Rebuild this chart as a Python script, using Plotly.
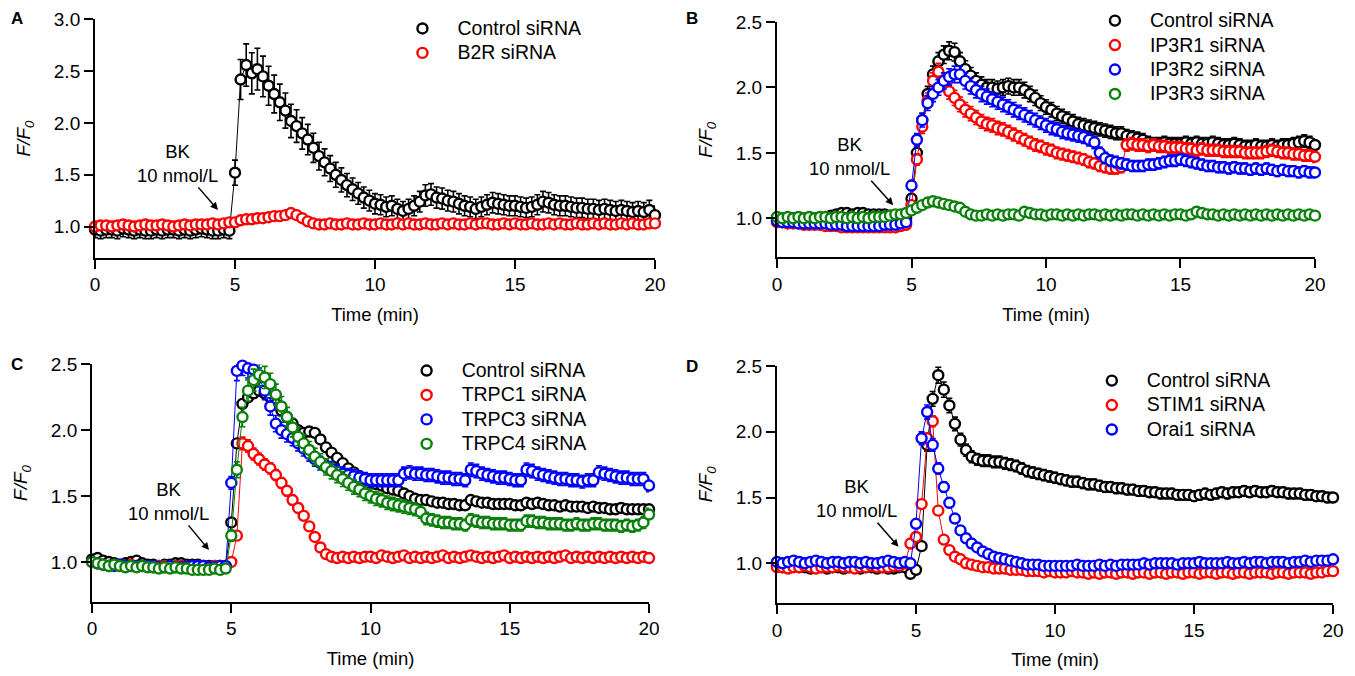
import plotly.graph_objects as go

FONT = "Liberation Sans, Arial, Helvetica, sans-serif"
BLACK, RED, BLUE, GREEN = "#000000", "#ff0000", "#0000ff", "#0b800b"

# sampling grid (min)
time_min = [
    0.0, 0.2, 0.4, 0.6, 0.8, 1.0, 1.2, 1.4, 1.6, 1.8,
    2.0, 2.2, 2.4, 2.6, 2.8, 3.0, 3.2, 3.4, 3.6, 3.8,
    4.0, 4.2, 4.4, 4.6, 4.8, 5.0, 5.2, 5.4, 5.6, 5.8,
    6.0, 6.2, 6.4, 6.6, 6.8, 7.0, 7.2, 7.4, 7.6, 7.8,
    8.0, 8.2, 8.4, 8.6, 8.8, 9.0, 9.2, 9.4, 9.6, 9.8,
    10.0, 10.2, 10.4, 10.6, 10.8, 11.0, 11.2, 11.4, 11.6, 11.8,
    12.0, 12.2, 12.4, 12.6, 12.8, 13.0, 13.2, 13.4, 13.6, 13.8,
    14.0, 14.2, 14.4, 14.6, 14.8, 15.0, 15.2, 15.4, 15.6, 15.8,
    16.0, 16.2, 16.4, 16.6, 16.8, 17.0, 17.2, 17.4, 17.6, 17.8,
    18.0, 18.2, 18.4, 18.6, 18.8, 19.0, 19.2, 19.4, 19.6, 19.8,
    20.0,
]

# ---- panel A
a_control = [
    0.97, 0.96, 0.97, 0.97, 0.96, 0.98, 0.97, 0.96, 0.97, 0.96,
    0.96, 0.97, 0.96, 0.97, 0.97, 0.96, 0.97, 0.96, 0.97, 0.98,
    0.97, 0.96, 0.96, 0.97, 0.96, 1.52, 2.42, 2.56, 2.48, 2.52,
    2.45, 2.36, 2.28, 2.20, 2.12, 2.02, 1.97, 1.90, 1.84, 1.76,
    1.68, 1.62, 1.56, 1.50, 1.45, 1.40, 1.36, 1.32, 1.28, 1.25,
    1.22, 1.21, 1.19, 1.20, 1.17, 1.15, 1.17, 1.20, 1.24, 1.30,
    1.31, 1.28, 1.27, 1.25, 1.24, 1.22, 1.20, 1.19, 1.17, 1.19,
    1.21, 1.23, 1.22, 1.21, 1.20, 1.20, 1.19, 1.18, 1.19, 1.21,
    1.24, 1.23, 1.21, 1.20, 1.20, 1.19, 1.18, 1.18, 1.17, 1.17,
    1.16, 1.17, 1.16, 1.15, 1.16, 1.15, 1.14, 1.15, 1.14, 1.16,
    1.11,
]
a_b2r = [
    1.00, 1.01, 1.01, 1.00, 1.01, 1.02, 1.01, 1.00, 1.01, 1.02,
    1.01, 1.01, 1.02, 1.01, 1.00, 1.01, 1.02, 1.01, 1.02, 1.02,
    1.02, 1.03, 1.02, 1.03, 1.04, 1.04, 1.06, 1.07, 1.07, 1.08,
    1.08, 1.09, 1.10, 1.10, 1.11, 1.13, 1.11, 1.08, 1.05, 1.03,
    1.02, 1.02, 1.03, 1.02, 1.02, 1.03, 1.02, 1.02, 1.03, 1.02,
    1.02, 1.03, 1.02, 1.02, 1.03, 1.02, 1.03, 1.02, 1.02, 1.03,
    1.02, 1.02, 1.03, 1.02, 1.03, 1.02, 1.02, 1.03, 1.02, 1.03,
    1.03, 1.02, 1.02, 1.03, 1.02, 1.03, 1.02, 1.02, 1.03, 1.02,
    1.02, 1.03, 1.02, 1.03, 1.02, 1.02, 1.03, 1.02, 1.02, 1.03,
    1.02, 1.03, 1.02, 1.02, 1.03, 1.02, 1.03, 1.02, 1.02, 1.03,
    1.03,
]

# ---- panel B
b_control = [
    1.00, 0.99, 0.99, 1.00, 0.99, 0.99, 1.00, 1.00, 0.99, 1.00,
    1.02, 1.03, 1.04, 1.04, 1.03, 1.04, 1.04, 1.03, 1.03, 1.03,
    1.03, 1.02, 1.02, 1.01, 1.00, 1.15, 1.50, 1.75, 1.95, 2.10,
    2.20, 2.25, 2.28, 2.27, 2.20, 2.14, 2.09, 2.05, 2.02, 2.00,
    2.00, 1.99, 2.00, 2.01, 2.00, 2.00, 1.98, 1.95, 1.92, 1.88,
    1.85, 1.83, 1.80, 1.78, 1.76, 1.74, 1.72, 1.71, 1.70, 1.69,
    1.68, 1.67, 1.66, 1.65, 1.65, 1.63, 1.62, 1.61, 1.60, 1.58,
    1.57, 1.57, 1.58, 1.57, 1.57, 1.57, 1.58, 1.57, 1.58, 1.57,
    1.57, 1.58, 1.57, 1.56, 1.56, 1.57, 1.56, 1.55, 1.55, 1.56,
    1.55, 1.55, 1.56, 1.55, 1.56, 1.56, 1.57, 1.58, 1.59, 1.58,
    1.56,
]
b_ip3r1 = [
    0.97, 0.97, 0.96, 0.96, 0.96, 0.95, 0.95, 0.95, 0.95, 0.94,
    0.94, 0.94, 0.93, 0.93, 0.93, 0.93, 0.93, 0.93, 0.93, 0.93,
    0.93, 0.93, 0.93, 0.94, 0.95, 1.10, 1.45, 1.70, 1.90, 2.05,
    2.12, 2.05, 1.97, 1.92, 1.87, 1.83, 1.80, 1.77, 1.74, 1.72,
    1.71, 1.69, 1.68, 1.66, 1.64, 1.62, 1.60, 1.58, 1.56, 1.55,
    1.53, 1.52, 1.50, 1.49, 1.48, 1.47, 1.46, 1.45, 1.43, 1.42,
    1.40, 1.39, 1.38, 1.38, 1.39, 1.56, 1.57, 1.56, 1.56, 1.55,
    1.56, 1.55, 1.55, 1.54, 1.54, 1.54, 1.53, 1.53, 1.52, 1.53,
    1.52, 1.52, 1.52, 1.51, 1.51, 1.51, 1.51, 1.50, 1.50, 1.50,
    1.50, 1.51, 1.52, 1.51, 1.50, 1.50, 1.49, 1.49, 1.48, 1.48,
    1.47,
]
b_ip3r2 = [
    0.98, 0.97, 0.97, 0.97, 0.96, 0.96, 0.96, 0.96, 0.96, 0.96,
    0.95, 0.95, 0.95, 0.94, 0.94, 0.94, 0.94, 0.94, 0.94, 0.94,
    0.95, 0.95, 0.95, 0.96, 0.97, 1.25, 1.60, 1.75, 1.88, 1.95,
    2.00, 2.05, 2.08, 2.10, 2.10, 2.05, 2.01, 1.98, 1.95, 1.93,
    1.91, 1.89, 1.87, 1.85, 1.83, 1.81, 1.79, 1.77, 1.75, 1.73,
    1.71, 1.69, 1.68, 1.66, 1.65, 1.64, 1.63, 1.62, 1.60, 1.58,
    1.50, 1.46, 1.44, 1.43, 1.42, 1.41, 1.40, 1.40, 1.40, 1.41,
    1.41, 1.42, 1.43, 1.44, 1.44, 1.45, 1.44, 1.43, 1.42, 1.41,
    1.40, 1.40, 1.39, 1.39, 1.38, 1.39, 1.38, 1.38, 1.37, 1.38,
    1.37, 1.38, 1.37, 1.36, 1.37, 1.36, 1.36, 1.35, 1.36, 1.35,
    1.35,
]
b_ip3r3 = [
    1.01, 1.00, 1.01, 1.00, 1.01, 1.00, 1.01, 1.00, 1.01, 1.01,
    1.00, 1.01, 1.01, 1.00, 1.01, 1.00, 1.01, 1.00, 1.01, 1.01,
    1.01, 1.02, 1.03, 1.03, 1.04, 1.06, 1.08, 1.10, 1.12, 1.13,
    1.12, 1.11, 1.10, 1.09, 1.08, 1.05, 1.03, 1.02, 1.02, 1.03,
    1.02, 1.03, 1.02, 1.03, 1.03, 1.02, 1.05, 1.04, 1.03, 1.03,
    1.02, 1.03, 1.03, 1.02, 1.03, 1.02, 1.03, 1.02, 1.03, 1.03,
    1.02, 1.03, 1.02, 1.03, 1.02, 1.03, 1.03, 1.02, 1.03, 1.02,
    1.03, 1.02, 1.03, 1.02, 1.03, 1.03, 1.02, 1.03, 1.05, 1.04,
    1.03, 1.03, 1.02, 1.03, 1.02, 1.03, 1.02, 1.03, 1.02, 1.03,
    1.02, 1.03, 1.02, 1.03, 1.02, 1.03, 1.02, 1.03, 1.02, 1.03,
    1.02,
]

# ---- panel C
c_control = [
    1.02, 1.03, 1.01, 1.00, 0.99, 0.98, 0.99, 1.00, 1.01, 0.99,
    0.98, 0.98, 0.97, 0.98, 0.98, 0.99, 0.99, 0.98, 0.98, 0.98,
    0.97, 0.97, 0.97, 0.97, 0.97, 1.30, 1.90, 2.20, 2.25, 2.28,
    2.30, 2.28, 2.25, 2.20, 2.15, 2.10, 2.05, 2.00, 1.98, 1.99,
    1.98, 1.93, 1.87, 1.83, 1.79, 1.75, 1.71, 1.68, 1.65, 1.62,
    1.60, 1.59, 1.58, 1.56, 1.55, 1.54, 1.52, 1.50, 1.48, 1.47,
    1.47, 1.46, 1.45, 1.45, 1.44, 1.44, 1.43, 1.43, 1.47, 1.46,
    1.45, 1.45, 1.44, 1.44, 1.44, 1.44, 1.43, 1.43, 1.45, 1.44,
    1.45, 1.44, 1.43, 1.43, 1.42, 1.43, 1.42, 1.42, 1.42, 1.41,
    1.42, 1.41, 1.41, 1.40, 1.40, 1.41, 1.40, 1.40, 1.40, 1.40,
    1.40,
]
c_trpc1 = [
    1.00, 0.99, 0.98, 0.97, 0.98, 0.97, 0.97, 0.98, 0.97, 0.97,
    0.97, 0.96, 0.97, 0.97, 0.96, 0.97, 0.97, 0.96, 0.97, 0.97,
    0.97, 0.96, 0.97, 0.97, 0.97, 1.00, 1.20, 1.90, 1.88, 1.82,
    1.78, 1.74, 1.71, 1.66, 1.60, 1.54, 1.47, 1.41, 1.35, 1.27,
    1.19, 1.11, 1.06, 1.04, 1.03, 1.04, 1.03, 1.04, 1.03, 1.04,
    1.04, 1.03, 1.05, 1.04, 1.03, 1.04, 1.05, 1.03, 1.04, 1.03,
    1.04, 1.03, 1.04, 1.05, 1.03, 1.04, 1.03, 1.04, 1.05, 1.04,
    1.03, 1.04, 1.03, 1.04, 1.05, 1.03, 1.04, 1.03, 1.04, 1.03,
    1.04, 1.03, 1.04, 1.03, 1.04, 1.05, 1.03, 1.04, 1.03, 1.04,
    1.03, 1.04, 1.03, 1.04, 1.03, 1.04, 1.03, 1.04, 1.03, 1.04,
    1.03,
]
c_trpc3 = [
    1.00, 0.99, 0.98, 0.97, 0.97, 0.98, 0.97, 0.97, 0.97, 0.97,
    0.97, 0.97, 0.96, 0.96, 0.97, 0.96, 0.96, 0.96, 0.97, 0.97,
    0.97, 0.96, 0.96, 0.97, 0.97, 1.60, 2.45, 2.49, 2.47, 2.46,
    2.40, 2.30, 2.18, 2.05, 2.00, 1.97, 1.94, 1.90, 1.86, 1.82,
    1.78, 1.75, 1.73, 1.71, 1.69, 1.67, 1.66, 1.65, 1.64, 1.63,
    1.62, 1.62, 1.62, 1.62, 1.62, 1.62, 1.67, 1.68, 1.67, 1.67,
    1.66, 1.66, 1.65, 1.64, 1.64, 1.63, 1.63, 1.62, 1.70, 1.69,
    1.67, 1.66, 1.65, 1.64, 1.64, 1.63, 1.62, 1.62, 1.70, 1.69,
    1.67, 1.66, 1.65, 1.64, 1.63, 1.63, 1.62, 1.62, 1.61, 1.62,
    1.62, 1.68, 1.67, 1.66, 1.65, 1.64, 1.64, 1.63, 1.63, 1.63,
    1.58,
]
c_trpc4 = [
    1.00, 0.99, 0.98, 0.97, 0.98, 0.97, 0.96, 0.97, 0.96, 0.97,
    0.96, 0.96, 0.95, 0.96, 0.95, 0.96, 0.95, 0.95, 0.94, 0.94,
    0.94, 0.94, 0.95, 0.94, 0.95, 1.20, 1.70, 2.10, 2.30, 2.38,
    2.42, 2.40, 2.35, 2.27, 2.18, 2.10, 2.02, 1.95, 1.90, 1.85,
    1.80, 1.76, 1.72, 1.69, 1.66, 1.63, 1.60, 1.57, 1.55, 1.52,
    1.50, 1.48, 1.47, 1.45, 1.44, 1.43, 1.42, 1.41, 1.40, 1.38,
    1.33, 1.32, 1.31, 1.30, 1.30, 1.29, 1.29, 1.28, 1.32, 1.31,
    1.30, 1.30, 1.29, 1.29, 1.29, 1.28, 1.28, 1.28, 1.31, 1.31,
    1.30, 1.30, 1.29, 1.29, 1.29, 1.28, 1.28, 1.29, 1.28, 1.28,
    1.29, 1.29, 1.28, 1.28, 1.28, 1.27, 1.28, 1.27, 1.28, 1.30,
    1.36,
]

# ---- panel D
d_control = [
    0.98, 0.97, 0.97, 0.98, 0.97, 0.97, 0.96, 0.97, 0.97, 0.96,
    0.97, 0.97, 0.96, 0.97, 0.97, 0.96, 0.97, 0.97, 0.96, 0.97,
    0.96, 0.96, 0.97, 0.97, 0.92, 0.95, 1.13, 1.90, 2.25, 2.43,
    2.32, 2.20, 2.06, 1.94, 1.86, 1.81, 1.79, 1.78, 1.78, 1.77,
    1.77, 1.76, 1.75, 1.74, 1.72, 1.70, 1.69, 1.68, 1.67, 1.66,
    1.65, 1.64, 1.63, 1.62, 1.62, 1.61, 1.60, 1.60, 1.59, 1.58,
    1.58, 1.57, 1.57, 1.56, 1.56, 1.55, 1.55, 1.54, 1.54, 1.53,
    1.53, 1.53, 1.52, 1.52, 1.52, 1.51, 1.52, 1.53, 1.52, 1.53,
    1.54, 1.53, 1.54, 1.54, 1.55, 1.54, 1.55, 1.54, 1.54, 1.55,
    1.54, 1.54, 1.53, 1.53, 1.53, 1.52, 1.52, 1.51, 1.51, 1.50,
    1.50,
]
d_stim1 = [
    0.97, 0.97, 0.96, 0.97, 0.97, 0.98, 0.97, 0.96, 0.97, 0.97,
    0.97, 0.98, 0.97, 0.97, 0.96, 0.97, 0.97, 0.98, 0.97, 0.97,
    0.97, 0.98, 0.98, 1.00, 1.15, 1.20, 1.45, 1.95, 2.08, 1.40,
    1.18, 1.10, 1.05, 1.03, 1.00, 0.99, 0.98, 0.97, 0.97, 0.96,
    0.96, 0.96, 0.95, 0.95, 0.95, 0.94, 0.94, 0.94, 0.93, 0.94,
    0.93, 0.93, 0.93, 0.94, 0.93, 0.93, 0.92, 0.93, 0.92, 0.93,
    0.93, 0.92, 0.93, 0.93, 0.92, 0.93, 0.93, 0.92, 0.93, 0.93,
    0.92, 0.93, 0.93, 0.92, 0.93, 0.93, 0.92, 0.93, 0.93, 0.92,
    0.93, 0.93, 0.92, 0.93, 0.93, 0.92, 0.93, 0.93, 0.93, 0.92,
    0.93, 0.93, 0.92, 0.93, 0.93, 0.93, 0.92, 0.93, 0.93, 0.94,
    0.94,
]
d_orai1 = [
    1.01, 1.00, 1.01, 1.02, 1.01, 1.00, 1.01, 1.02, 1.01, 1.00,
    1.01, 1.01, 1.00, 1.01, 1.01, 1.00, 1.01, 1.00, 1.00, 1.01,
    1.02, 1.01, 1.00, 1.01, 1.00, 1.30, 1.95, 2.15, 1.90, 1.72,
    1.58, 1.46, 1.34, 1.25, 1.19, 1.15, 1.12, 1.09, 1.07, 1.05,
    1.04, 1.03, 1.02, 1.01, 1.00, 0.99, 0.99, 0.99, 0.98, 0.98,
    0.98, 0.98, 0.98, 0.98, 0.99, 0.98, 0.98, 0.98, 0.99, 0.98,
    0.99, 0.98, 0.99, 0.99, 0.99, 0.99, 1.00, 0.99, 1.00, 1.00,
    1.00, 1.00, 0.99, 1.00, 1.00, 1.00, 1.01, 1.00, 1.00, 1.00,
    1.00, 1.01, 1.00, 1.00, 1.01, 1.00, 1.01, 1.01, 1.00, 1.01,
    1.01, 1.01, 1.00, 1.01, 1.01, 1.02, 1.01, 1.02, 1.02, 1.02,
    1.03,
]

# SEM shown as percent of the mean
panels = [
    dict(ax="", label="A", yrange=[0.7, 3.0], xdom=[0.0646, 0.4803], ydom=[0.6264, 0.9828],
         names=["Control siRNA", "B2R siRNA"], series=[a_control, a_b2r],
         colors=[BLACK, RED], sem_pct=[8, 1.5],
         legend=dict(x=0.2817, y=0.9952), bk=(2.95, 1.61), arrow=(4.39, 1.16),
         letter=(0.001, 0.985)),
    dict(ax="2", label="B", yrange=[0.7, 2.5], xdom=[0.5709, 0.9703], ydom=[0.6265, 0.9790],
         names=["Control siRNA", "IP3R1 siRNA", "IP3R2 siRNA", "IP3R3 siRNA"],
         series=[b_control, b_ip3r1, b_ip3r2, b_ip3r3],
         colors=[BLACK, RED, BLUE, GREEN], sem_pct=[3, 3, 3, 1.5],
         legend=dict(x=0.7958, y=1.0069), bk=(2.7, 1.47), arrow=(4.32, 1.10),
         letter=(0.5015, 0.985)),
    dict(ax="3", label="C", yrange=[0.7, 2.5], xdom=[0.0624, 0.4759], ydom=[0.1115, 0.4666],
         names=["Control siRNA", "TRPC1 siRNA", "TRPC3 siRNA", "TRPC4 siRNA"],
         series=[c_control, c_trpc1, c_trpc3, c_trpc4],
         colors=[BLACK, RED, BLUE, GREEN], sem_pct=[1.5, 2.5, 3, 3.5],
         legend=dict(x=0.2848, y=0.4831), bk=(2.75, 1.46), arrow=(4.2, 1.09),
         letter=(0.001, 0.4656)),
    dict(ax="4", label="D", yrange=[0.7, 2.5], xdom=[0.5709, 0.9837], ydom=[0.1097, 0.4641],
         names=["Control siRNA", "STIM1 siRNA", "Orai1 siRNA"],
         series=[d_control, d_stim1, d_orai1],
         colors=[BLACK, RED, BLUE], sem_pct=[2.5, 2, 2.5],
         legend=dict(x=0.7935, y=0.4680), bk=(2.86, 1.49), arrow=(4.37, 1.125),
         letter=(0.5015, 0.4626)),
]

fig = go.Figure()
annotations = []
layout = {}

for p in panels:
    ax = p["ax"]
    leg = "legend" + ax
    for name, ys, col, pct in zip(p["names"], p["series"], p["colors"], p["sem_pct"]):
        # thin connecting line, kept out of the legend
        fig.add_trace(go.Scatter(
            x=time_min, y=ys, mode="lines", showlegend=False, hoverinfo="skip",
            xaxis="x" + ax, yaxis="y" + ax, cliponaxis=False,
            line=dict(color=col, width=1),
        ))
        fig.add_trace(go.Scatter(
            x=time_min, y=ys, mode="markers",
            name='<span style="font-size:19.5px">' + name + "</span>",
            legend=leg, xaxis="x" + ax, yaxis="y" + ax, cliponaxis=False,
            marker=dict(symbol="circle", size=10, color="white", line=dict(color=col, width=2.4)),
            error_y=dict(type="percent", value=pct, color=col, thickness=1.6, width=3),
        ))

    axis_common = dict(showline=True, linecolor="black", linewidth=2, ticks="outside",
                       ticklen=9, tickwidth=2, tickcolor="black", showgrid=False,
                       zeroline=False, automargin=False, ticklabeloverflow="allow",
                       tickfont=dict(family=FONT, size=19, color="black"))
    layout["xaxis" + ax] = dict(axis_common, domain=p["xdom"], anchor="y" + ax,
                                range=[0, 20], tick0=0, dtick=5,
                                title=dict(text="Time (min)", standoff=14,
                                           font=dict(family=FONT, size=18.5, color="black")))
    layout["yaxis" + ax] = dict(axis_common, domain=p["ydom"], anchor="x" + ax,
                                range=p["yrange"], tick0=1.0, dtick=0.5, tickformat=".1f",
                                title=dict(text="F/F<sub>0</sub>", standoff=18,
                                           font=dict(family=FONT, size=19, color="black",
                                                     style="italic")))
    layout[leg] = dict(x=p["legend"]["x"], y=p["legend"]["y"], xanchor="left", yanchor="top",
                       bgcolor="rgba(0,0,0,0)", itemwidth=60, tracegroupgap=0,
                       font=dict(family=FONT, size=16.5, color="black"))

    xr, yr = "x" + ax, "y" + ax
    hx, hy = p["arrow"]
    annotations.append(dict(x=hx, y=hy, ax=p["bk"][0], ay=p["bk"][1], xref=xr, yref=yr,
                            axref=xr, ayref=yr, text="BK<br>10 nmol/L", align="center",
                            showarrow=True, arrowhead=2, arrowsize=1, arrowwidth=1.5,
                            arrowcolor="black", standoff=0, startstandoff=0,
                            font=dict(family=FONT, size=18.5, color="black")))
    annotations.append(dict(x=p["letter"][0], y=p["letter"][1], xref="paper", yref="paper",
                            text="<b>" + p["label"] + "</b>", showarrow=False,
                            xanchor="left", yanchor="middle",
                            font=dict(family=FONT, size=17, color="black")))

# the page body keeps its default 8px margin, so the figure is 8px smaller each way
fig.update_layout(
    width=1347, height=668,
    margin=dict(l=0, r=0, t=0, b=0, autoexpand=False),
    paper_bgcolor="white", plot_bgcolor="white",
    showlegend=True,
    annotations=annotations,
    font=dict(family=FONT, color="black"),
    **layout,
)

fig.write_html("out.html")
